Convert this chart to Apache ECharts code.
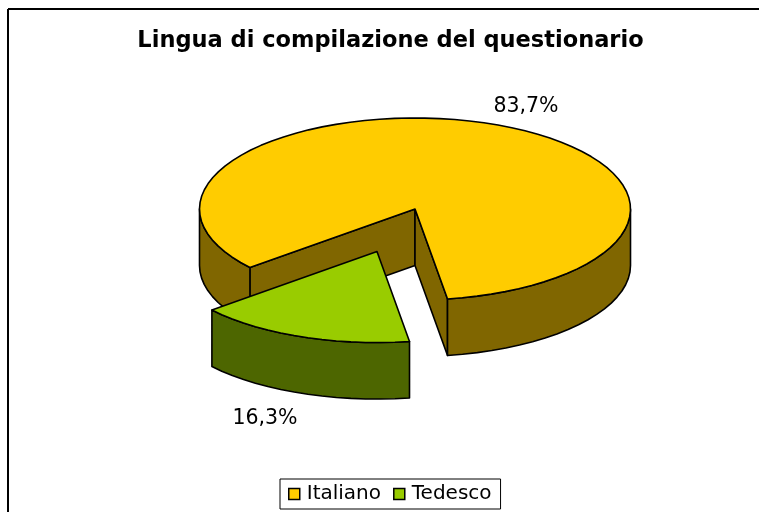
<!DOCTYPE html>
<html>
<head>
<meta charset="utf-8">
<style>
  html, body { margin: 0; padding: 0; background: #fff; }
  #chart { width: 759px; height: 512px; }
</style>
<script src="https://cdn.jsdelivr.net/npm/echarts@6/dist/echarts.min.js"></script>
</head>
<body>
<div id="chart"></div>
<script>
const categories = ["Italiano", "Tedesco"];
const shares = [83.7, 16.3];
const topColors = ["#FFCC00", "#99CC00"];
const wallColors = ["#806600", "#4D6600"];

// projected pie: ellipse centre, radii, wall height, first slice angle (deg clockwise from east)
const CX = 415, CY = 209, RX = 215.5, RY = 91, DEPTH = 56.5, START = 140;
const explode = [0, 0.5];
const labelOffset = [[35, -17], [-36, 25]];
const font = "Verdana, 'DejaVu Sans', sans-serif";

const total = shares.reduce((a, b) => a + b, 0);

function arcPoints(cx, cy, from, to, dy) {
  // coarse steps on purpose, the source outline is slightly faceted
  const steps = Math.max(2, Math.round(Math.abs(to - from) / 4));
  const pts = [];
  for (let i = 0; i <= steps; i++) {
    const a = ((from + ((to - from) * i) / steps) * Math.PI) / 180;
    pts.push([cx + RX * Math.cos(a), cy + RY * Math.sin(a) + dy]);
  }
  return pts;
}

function poly(points, fill, z) {
  return {
    type: "polygon",
    z2: z,
    shape: { points },
    style: { fill, stroke: "#000", lineWidth: 1.6, lineJoin: "round" },
  };
}

function sliceRenderer(index) {
  return (params, api) => {
    const before = shares.slice(0, index).reduce((a, b) => a + b, 0);
    const from = START + (before / total) * 360;
    const to = from + (api.value(0) / total) * 360;
    const mid = ((from + to) / 2) * (Math.PI / 180);
    const cx = CX + explode[index] * RX * Math.cos(mid);
    const cy = CY + explode[index] * RY * Math.sin(mid);
    const rim = arcPoints(cx, cy, from, to, 0);
    const first = rim[0];
    const last = rim[rim.length - 1];
    const children = [];

    // cut faces from the centre, visible only where they look toward the viewer
    [first, last].forEach((p) => {
      if (index === 0) {
        children.push(poly([[cx, cy], p, [p[0], p[1] + DEPTH], [cx, cy + DEPTH]], wallColors[index], 1));
      }
    });

    // outer wall, only the part on the front half of the ellipse
    for (let turn = -360; turn <= 360; turn += 360) {
      const a = Math.max(from, turn);
      const b = Math.min(to, turn + 180);
      if (b > a) {
        const upper = arcPoints(cx, cy, a, b, 0);
        const lower = arcPoints(cx, cy, a, b, DEPTH).reverse();
        children.push(poly(upper.concat(lower), wallColors[index], 2));
      }
    }

    children.push(poly([[cx, cy]].concat(rim), topColors[index], 3));

    const anchor = [
      cx + RX * Math.cos(mid) + labelOffset[index][0],
      cy + RY * Math.sin(mid) + (Math.sin(mid) > 0 ? DEPTH : 0) + labelOffset[index][1],
    ];
    children.push({
      type: "text",
      z2: 4,
      style: {
        x: anchor[0],
        y: anchor[1],
        text: api.value(0).toFixed(1).replace(".", ",") + "%",
        fill: "#000",
        font: "20.5px " + font,
        align: "center",
        verticalAlign: "middle",
      },
    });
    return { type: "group", children };
  };
}

const chart = echarts.init(document.getElementById("chart"));
chart.setOption({
  animation: false,
  backgroundColor: "#fff",
  title: {
    text: "Lingua di compilazione del questionario",
    left: 385.5,
    top: 25,
    textAlign: "center",
    textStyle: { fontFamily: font, fontSize: 22.5, fontWeight: "bold", color: "#000" },
  },
  legend: {
    data: categories,
    left: 280,
    top: 479,
    itemWidth: 11,
    itemHeight: 11,
    itemGap: 12,
    padding: [5, 9, 5, 8],
    borderColor: "#000",
    borderWidth: 1,
    selectedMode: false,
    icon: "rect",
    itemStyle: { borderColor: "#000", borderWidth: 1.5 },
    textStyle: { fontFamily: font, fontSize: 20, lineHeight: 20, color: "#000", padding: [0, 0, 0, 2] },
  },
  graphic: [
    { type: "line", shape: { x1: 8, y1: 9, x2: 759, y2: 9 }, style: { stroke: "#000", lineWidth: 2 } },
    { type: "line", shape: { x1: 8, y1: 9, x2: 8, y2: 512 }, style: { stroke: "#000", lineWidth: 2 } },
  ],
  series: categories.map((name, i) => ({
    name,
    type: "custom",
    coordinateSystem: "none",
    silent: true,
    itemStyle: { color: topColors[i] },
    data: [[shares[i]]],
    renderItem: sliceRenderer(i),
  })),
});
</script>
</body>
</html>
